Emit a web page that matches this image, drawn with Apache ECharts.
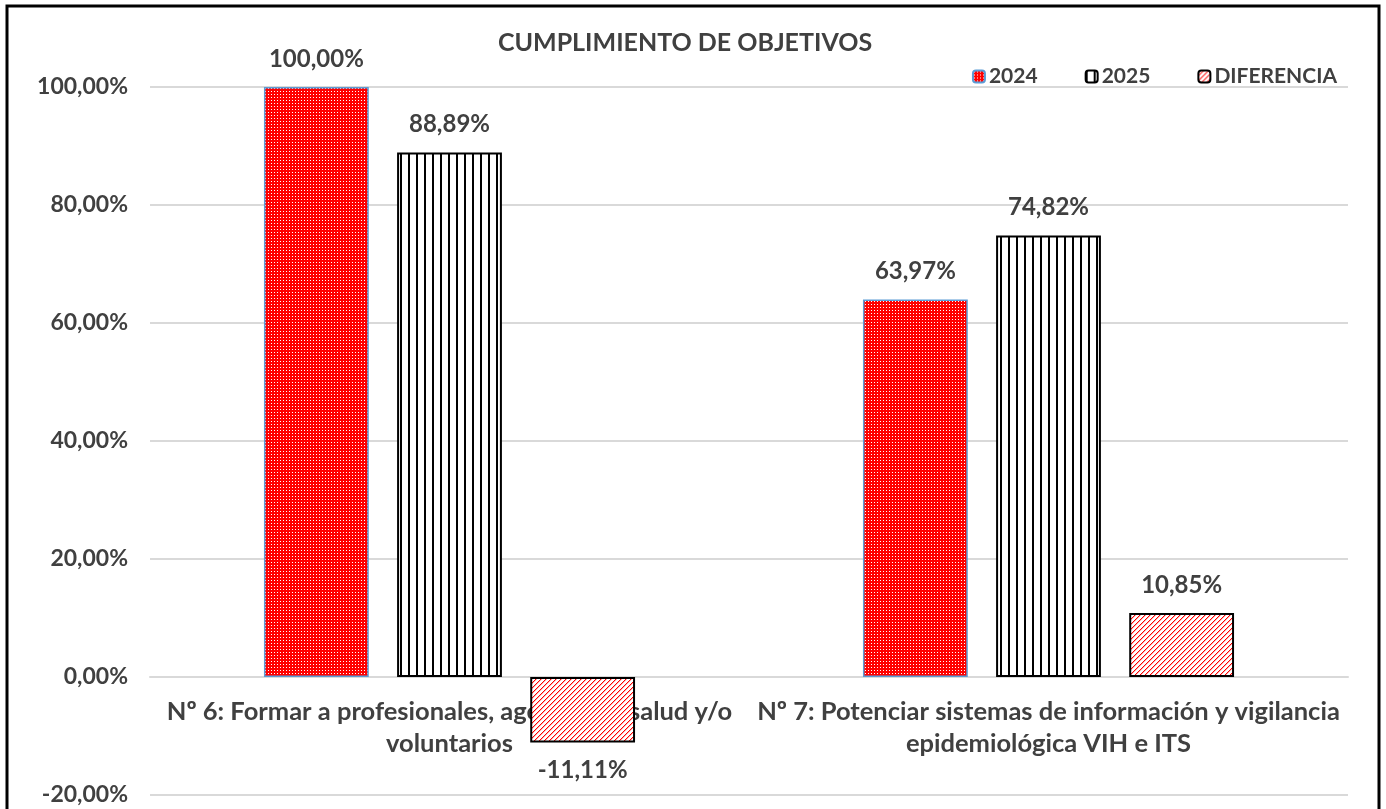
<!DOCTYPE html>
<html><head><meta charset="utf-8">
<script src="https://cdn.jsdelivr.net/npm/echarts@6/dist/echarts.min.js"></script>
<style>html,body{margin:0;padding:0;background:#fff}#c{width:1386px;height:809px}</style>
</head><body><div id="c"></div>
<script>
const categories = ["Nº 6: Formar a profesionales, agentes de salud y/o\nvoluntarios",
  "Nº 7: Potenciar sistemas de información y vigilancia\nepidemiológica VIH e ITS"];
const seriesNames = ["2024", "2025", "DIFERENCIA"];
const v2024 = [100.00, 63.97];
const v2025 = [88.89, 74.82];
const vDiff = [-11.11, 10.85];
const yTicks = { min: -20, max: 100, interval: 20 };

function pat(w, h, draw) {
  const c = document.createElement('canvas'); c.width = w; c.height = h;
  const g = c.getContext('2d'); draw(g, w, h); return { image: c, repeat: 'repeat' };
}
const p2024 = pat(3, 3, (g) => { g.fillStyle = '#ff0000'; g.fillRect(0,0,3,3); g.fillStyle = '#ffffff'; g.fillRect(1,1,1,1); });
const p2025 = pat(8, 2, (g) => { g.fillStyle = '#ffffff'; g.fillRect(0,0,8,2); g.fillStyle = '#000000'; g.fillRect(0,0,2,2); });
const pDiff = pat(5, 5, (g) => { g.fillStyle = '#ffffff'; g.fillRect(0,0,5,5);
  for (let i = 0; i < 5; i++) { g.fillStyle = '#ff0000'; g.fillRect(i, 4 - i, 1, 1);
    g.fillStyle = '#ffb0b0'; g.fillRect((i + 1) % 5, 4 - i, 1, 1); } });

const fmt = v => v.toFixed(2).replace('.', ',') + '%';
const FONT = 'Lato';
const TXT = '#404040';
const lbl = { show: true, fontFamily: FONT, fontWeight: 'bold', fontSize: 24, color: TXT,
  formatter: p => fmt(p.value), distance: 16 };

const diffData = vDiff.map(v => v < 0 ? { value: v, label: { position: 'bottom' } } : { value: v });
// category labels anchored at the zero line of the value axis
const catLabelData = categories.map(c => [c, 0]);

const chart = echarts.init(document.getElementById('c'));
chart.setOption({
  animation: false,
  textStyle: { fontFamily: FONT },
  title: { text: 'CUMPLIMIENTO DE OBJETIVOS', left: 680, textAlign: 'center', top: 25,
    textStyle: { fontFamily: FONT, fontWeight: 'bold', fontSize: 25, color: TXT } },
  legend: { right: 44, top: 61, itemWidth: 12, itemHeight: 12, itemGap: 47,
    data: seriesNames,
    textStyle: { fontFamily: FONT, fontWeight: 'bold', fontSize: 21, color: TXT, padding: [0,0,0,-1] } },
  grid: { left: 150, right: 38, top: 87, bottom: 14, containLabel: false, outerBoundsMode: 'none' },
  xAxis: { type: 'category', data: categories,
    axisLine: { show: true, onZero: true, lineStyle: { color: '#d9d9d9', width: 2 } }, axisTick: { show: false },
    axisLabel: { show: false } },
  yAxis: { type: 'value', min: yTicks.min, max: yTicks.max, interval: yTicks.interval,
    axisLabel: { fontFamily: FONT, fontWeight: 'bold', fontSize: 23, color: TXT, margin: 22, formatter: v => fmt(v) },
    splitLine: { lineStyle: { color: '#d9d9d9', width: 2 } }, axisLine: { show: false }, axisTick: { show: false } },
  series: [
    { name: 'cat', type: 'scatter', data: catLabelData, symbolSize: 0, silent: true, z: 1,
      itemStyle: { opacity: 1 },
      label: { show: true, position: 'bottom', distance: 19, formatter: p => p.value[0],
        fontFamily: FONT, fontWeight: 'bold', fontSize: 25.5, color: TXT, lineHeight: 32, align: 'center', opacity: 1 } },
    { name: '2024', type: 'bar', data: v2024, barWidth: '17.5%', barGap: '27%', barCategoryGap: '38%', z: 3,
      itemStyle: { color: p2024, borderColor: '#5b9bd5', borderWidth: 1.5 }, label: Object.assign({ position: 'top' }, lbl) },
    { name: '2025', type: 'bar', data: v2025, barWidth: '17.5%', z: 3,
      itemStyle: { color: p2025, borderColor: '#000000', borderWidth: 2 }, label: Object.assign({ position: 'top' }, lbl) },
    { name: 'DIFERENCIA', type: 'bar', data: diffData, barWidth: '17.5%', z: 3,
      itemStyle: { color: pDiff, borderColor: '#000000', borderWidth: 2 },
      label: Object.assign({ position: 'top' }, lbl) }
  ],
  graphic: [{ type: 'rect', shape: { x: 7, y: 6, width: 1372, height: 820 }, style: { fill: null, stroke: '#000', lineWidth: 3 }, z: 100 }]
});
</script></body></html>
